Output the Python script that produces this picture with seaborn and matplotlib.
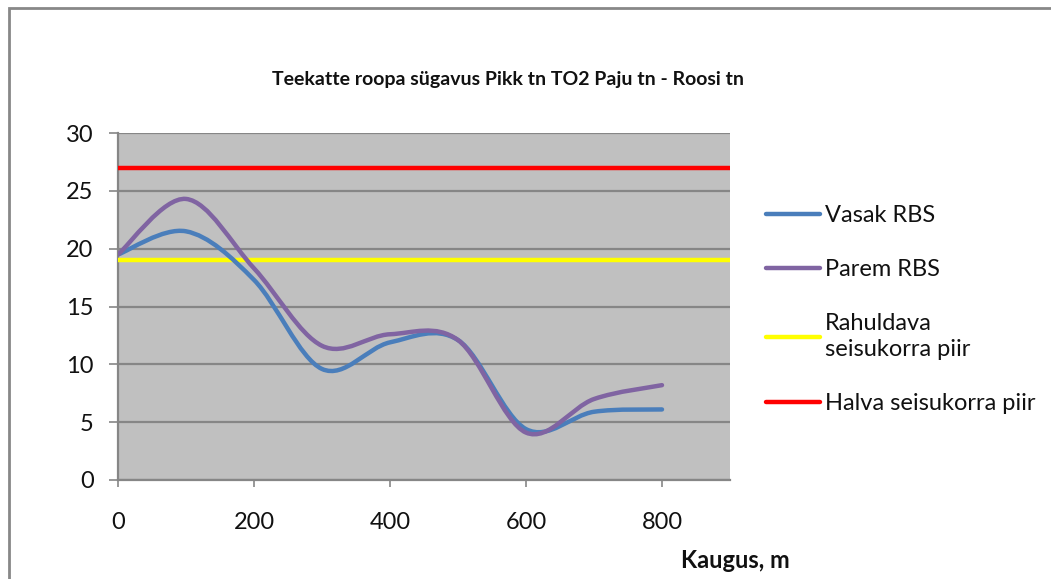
import numpy as np
import pandas as pd
import seaborn as sns
import matplotlib
matplotlib.use("Agg")
import matplotlib.pyplot as plt
from matplotlib.path import Path
from matplotlib.patches import PathPatch, Rectangle
from matplotlib.lines import Line2D

# ---- data ----
distance = [0, 100, 200, 300, 400, 500, 600, 700, 800]
vasak = [19.5, 21.5, 17.3, 9.6, 11.9, 12.1, 4.4, 5.9, 6.1]
parem = [19.5, 24.3, 18.3, 11.6, 12.6, 12.1, 4.1, 7.0, 8.2]
limit_satisfactory = 19
limit_poor = 27
title = "Teekatte roopa sügavus Pikk tn TO2 Paju tn - Roosi tn"
xlabel = "Kaugus, m"
labels = ["Vasak RBS", "Parem RBS", "Rahuldava\nseisukorra piir", "Halva seisukorra piir"]
xticks = [0, 200, 400, 600, 800]
yticks = [0, 5, 10, 15, 20, 25, 30]

df = pd.DataFrame({"Kaugus": distance, "Vasak RBS": vasak, "Parem RBS": parem})

sns.set_theme(style="white")
plt.rcParams["font.family"] = ["Lato", "DejaVu Sans"]

W, H = 1051, 579
fig = plt.figure(figsize=(W / 100, H / 100), dpi=100)
ax = fig.add_axes([118 / W, 1 - 480 / H, (730 - 118) / W, (480 - 133) / H])
ax.set_facecolor("#C0C0C0")

grid_c = "#868686"
ax.set_xlim(0, 900)
ax.set_ylim(0, 30)
ax.set_yticks(yticks)
ax.set_xticks(xticks)
ax.yaxis.grid(True, color=grid_c, lw=1.6)
ax.xaxis.grid(False)
for s in ["top", "right"]:
    ax.spines[s].set_visible(False)
for s in ["left", "bottom"]:
    ax.spines[s].set_color(grid_c)
    ax.spines[s].set_linewidth(1.6)
ax.tick_params(axis="y", direction="out", length=6.5, width=1.2, color=grid_c,
               pad=11, labelsize=17, left=True)
ax.tick_params(axis="x", direction="out", length=5, width=1.2, color=grid_c,
               pad=18, labelsize=17, bottom=True)
for t in ax.get_xticklabels() + ax.get_yticklabels():
    t.set_color("#111111")

# threshold lines
ax.axhline(limit_satisfactory, color="#FFFF00", lw=3.2, zorder=3)
ax.axhline(limit_poor, color="#FF0000", lw=3.2, zorder=3)

# smoothed series (Bezier through the points, like spreadsheet smooth lines)
def smooth_path(xs, ys):
    P = np.column_stack([xs, ys]).astype(float)
    n = len(P)
    verts = [P[0]]
    codes = [Path.MOVETO]
    for i in range(n - 1):
        p0 = P[i - 1] if i > 0 else P[i]
        p1, p2 = P[i], P[i + 1]
        p3 = P[i + 2] if i + 2 < n else P[i + 1]
        c1 = p1 + (p2 - p0) / 6.0
        c2 = p2 - (p3 - p1) / 6.0
        verts += [c1, c2, p2]
        codes += [Path.CURVE4] * 3
    return Path(verts, codes)

colors = {"Vasak RBS": "#4A7EBB", "Parem RBS": "#8064A2"}
for name in ["Vasak RBS", "Parem RBS"]:
    patch = PathPatch(smooth_path(df["Kaugus"], df[name]), facecolor="none",
                      edgecolor=colors[name], lw=3.2, capstyle="round",
                      joinstyle="round", zorder=4)
    ax.add_patch(patch)

handles = [
    Line2D([], [], color=colors["Vasak RBS"], lw=3.2, solid_capstyle="round"),
    Line2D([], [], color=colors["Parem RBS"], lw=3.2, solid_capstyle="round"),
    Line2D([], [], color="#FFFF00", lw=3.2, solid_capstyle="round"),
    Line2D([], [], color="#FF0000", lw=3.2, solid_capstyle="round"),
]
leg = fig.legend(handles, labels, loc="upper left",
                 bbox_to_anchor=(766 / W, 1 - 205 / H), frameon=False,
                 fontsize=17, handlelength=2.3, handletextpad=0.2,
                 labelspacing=1.4, borderpad=0, borderaxespad=0)
for t in leg.get_texts():
    t.set_color("#111111")
    t.set_linespacing(1.3)

fig.text(508 / W, 1 - 80 / H, title, ha="center", va="center",
         fontsize=14, fontweight="bold", color="#111111")
fig.text(735 / W, 1 - 560 / H, xlabel, ha="center", va="center",
         fontsize=17, fontweight="bold", color="#111111")

# outer chart border
fig.patches.append(Rectangle((9 / W, -0.1), 1.2, 1 - 8 / H + 0.1,
                             transform=fig.transFigure, fill=False,
                             edgecolor="#888888", lw=2))

fig.savefig("out.png", dpi=100)
